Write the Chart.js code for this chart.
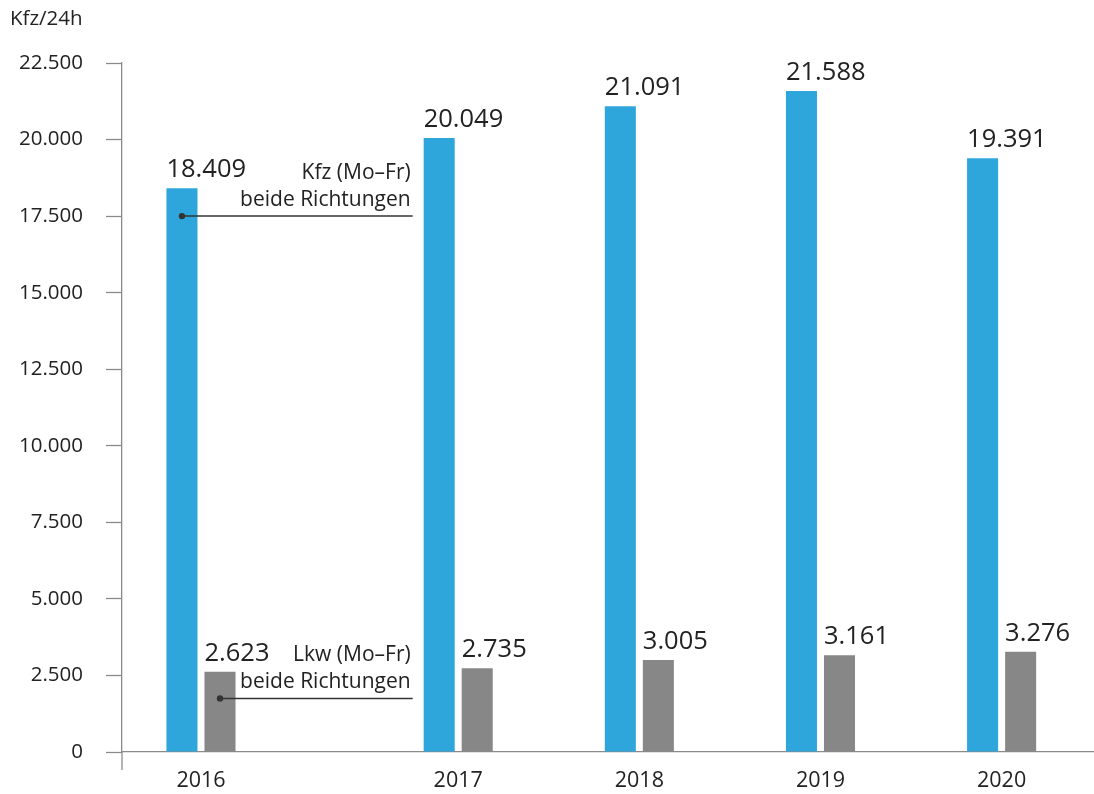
<!DOCTYPE html>
<html>
<head>
<meta charset="utf-8">
<script src="https://cdn.jsdelivr.net/npm/chart.js@4.4.0/dist/chart.umd.min.js"></script>
<style>
  html, body { margin: 0; padding: 0; background: #fff; }
  #wrap { width: 1094px; height: 794px; }
</style>
</head>
<body>
<div id="wrap"><canvas id="chart" width="1094" height="794"></canvas></div>
<script>
// Data
const years = ['2016', '2017', '2018', '2019', '2020'];
const kfz = [18409, 20049, 21091, 21588, 19391];
const lkw = [2623, 2735, 3005, 3161, 3276];
const yTicks = [0, 2500, 5000, 7500, 10000, 12500, 15000, 17500, 20000, 22500];
const unitLabel = 'Kfz/24h';
const notes = [
  { lines: ['Kfz (Mo–Fr)', 'beide Richtungen'], dataset: 0, at: 17500 },
  { lines: ['Lkw (Mo–Fr)', 'beide Richtungen'], dataset: 1, at: 1750 }
];

// Look
const FONT = "'Open Sans', sans-serif";
const TEXT = '#222';
const AXIS = '#8a8a8a';
const BLUE = '#2ea6dc';
const GREY = '#878787';

// first year sits a bit further away from the rest (room for the notes)
const firstGap = 0.42;
const xPos = years.map((y, i) => i + (i > 0 ? firstGap : 0));

// 12345 -> 12.345
const fmt = (v) => String(v).replace(/\B(?=(\d{3})+(?!\d))/g, '.');

const extras = {
  id: 'extras',
  afterDatasetsDraw(chart) {
    const { ctx, chartArea: a, scales: { y } } = chart;
    ctx.save();

    // y axis runs a little below the baseline
    ctx.strokeStyle = AXIS;
    ctx.lineWidth = 1.3;
    ctx.beginPath();
    ctx.moveTo(a.left, a.bottom);
    ctx.lineTo(a.left, a.bottom + 18);
    ctx.stroke();

    // unit
    ctx.fillStyle = TEXT;
    ctx.font = `20.5px ${FONT}`;
    ctx.textAlign = 'left';
    ctx.textBaseline = 'alphabetic';
    ctx.fillText(unitLabel, 10, 25);

    // values on top of bars, left-aligned with bar
    ctx.font = `25.5px ${FONT}`;
    chart.data.datasets.forEach((ds, di) => {
      chart.getDatasetMeta(di).data.forEach((bar, i) => {
        ctx.fillText(fmt(ds.data[i].y), bar.x - bar.width / 2, bar.y - 11);
      });
    });

    // series notes with leader lines
    const nextBar = chart.getDatasetMeta(0).data[1];
    const endX = nextBar.x - nextBar.width / 2 - 11;
    notes.forEach((n) => {
      const bar = chart.getDatasetMeta(n.dataset).data[0];
      const ly = y.getPixelForValue(n.at);
      ctx.strokeStyle = '#333';
      ctx.lineWidth = 1.5;
      ctx.beginPath();
      ctx.moveTo(bar.x, ly);
      ctx.lineTo(endX, ly);
      ctx.stroke();
      ctx.fillStyle = '#333';
      ctx.beginPath();
      ctx.arc(bar.x, ly, 3.2, 0, Math.PI * 2);
      ctx.fill();

      ctx.fillStyle = TEXT;
      ctx.font = `21px ${FONT}`;
      ctx.textAlign = 'right';
      ctx.fillText(n.lines[0], endX - 2, ly - 37);
      ctx.fillText(n.lines[1], endX - 2, ly - 10);
    });

    ctx.restore();
  }
};

new Chart(document.getElementById('chart'), {
  type: 'bar',
  data: {
    datasets: [
      {
        label: 'Kfz (Mo–Fr) beide Richtungen',
        data: kfz.map((v, i) => ({ x: xPos[i], y: v })),
        backgroundColor: BLUE
      },
      {
        label: 'Lkw (Mo–Fr) beide Richtungen',
        data: lkw.map((v, i) => ({ x: xPos[i], y: v })),
        backgroundColor: GREY
      }
    ]
  },
  options: {
    responsive: false,
    animation: false,
    layout: { padding: { top: 63, right: 0, left: 0, bottom: 0 } },
    categoryPercentage: 0.42,
    barPercentage: 0.816,
    plugins: {
      legend: { display: false },
      tooltip: { enabled: false }
    },
    scales: {
      x: {
        type: 'linear',
        offset: false,
        min: -0.436,
        max: 4.93,
        afterBuildTicks: (s) => { s.ticks = xPos.map((v) => ({ value: v })); },
        afterFit: (s) => { s.height = 42; },
        grid: { drawOnChartArea: false, drawTicks: false },
        border: { color: AXIS, width: 1.3 },
        ticks: {
          autoSkip: false,
          maxRotation: 0,
          padding: 16,
          color: TEXT,
          font: { family: FONT, size: 21.5 },
          callback: (v, i) => years[i]
        }
      },
      y: {
        min: 0,
        max: 22500,
        afterBuildTicks: (s) => { s.ticks = yTicks.map((v) => ({ value: v })); },
        afterFit: (s) => { s.width = 122; },
        grid: { drawOnChartArea: false, tickLength: 16, tickColor: AXIS, tickWidth: 1.3 },
        border: { color: AXIS, width: 1.3 },
        ticks: {
          padding: 23,
          color: TEXT,
          font: { family: FONT, size: 20.5 },
          callback: (v) => fmt(v)
        }
      }
    }
  },
  plugins: [extras]
});
</script>
</body>
</html>
